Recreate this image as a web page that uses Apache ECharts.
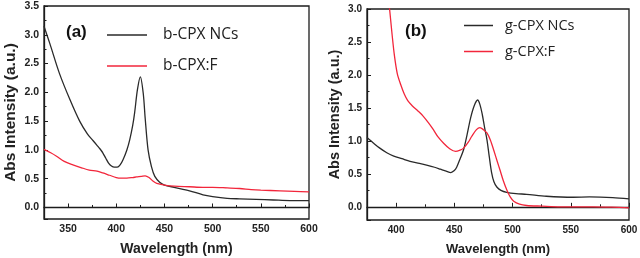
<!DOCTYPE html>
<html>
<head>
<meta charset="utf-8">
<script src="https://cdn.jsdelivr.net/npm/echarts@6/dist/echarts.min.js"></script>
<style>html,body{margin:0;padding:0;background:#fff}#c{width:640px;height:258px}</style>
</head>
<body>
<div id="c"></div>
<script>
// Panel (a)
const aNcX = [325,331,341,352,362,370,376,380,383,386,389,392,395,398,401,404,407,411,414,417,419,422,425,428,430,433,436.5,440,445,450,460,476,490,500,515,528,545,563,580,600];
const aNcY = [3.15,2.85,2.33,1.87,1.50,1.28,1.16,1.08,1.02,0.95,0.86,0.77,0.72,0.70,0.70,0.74,0.83,1.00,1.18,1.42,1.64,2.05,2.27,1.98,1.55,1.00,0.71,0.54,0.44,0.39,0.35,0.29,0.22,0.19,0.16,0.15,0.14,0.13,0.12,0.12];
const aFX = [325,332,338,346,355,364,372,380,386,393,400,405,411,417,421,426,430,434,438,442,450,460,476,490,500,515,528,540,550,570,585,600];
const aFY = [1.01,0.95,0.89,0.80,0.74,0.69,0.65,0.63,0.60,0.56,0.52,0.51,0.51,0.52,0.53,0.54,0.55,0.52,0.46,0.42,0.39,0.37,0.36,0.35,0.35,0.34,0.33,0.31,0.30,0.29,0.28,0.27];
// Panel (b)
const bNcX = [375,381,386,392,398,405,412,420,427,433,438,443,447,450,452,455,458,461,464,467,470,472,474,476,478,480,482,484,486.5,490,495,503,512,529,552,566,586,600];
const bNcY = [1.05,0.96,0.89,0.82,0.77,0.73,0.69,0.66,0.63,0.60,0.57,0.54,0.52,0.55,0.60,0.73,0.87,1.10,1.35,1.53,1.62,1.55,1.40,1.20,1.02,0.76,0.52,0.38,0.30,0.25,0.22,0.20,0.19,0.16,0.145,0.15,0.14,0.12];
const bFX = [392,394.4,396.5,398.5,401,404,407,410,414,419,423,428,432,436,441,446,451,455,458,462,465,469,472,475,478,481,484,487,489,492,495,498,501,506,512,525,541,569,585,600];
const bFY = [3.4,3.00,2.62,2.30,2.02,1.85,1.71,1.61,1.53,1.45,1.38,1.27,1.17,1.06,0.96,0.88,0.84,0.86,0.89,0.98,1.07,1.17,1.20,1.17,1.12,1.01,0.85,0.68,0.57,0.40,0.26,0.15,0.085,0.04,0.02,0.01,0.00,0.00,-0.005,-0.015];

const names = ['b-CPX NCs','b-CPX:F','g-CPX NCs','g-CPX:F'];
const panelLabels = ['(a)','(b)'];
const xName = 'Wavelength (nm)';
const yName = 'Abs Intensity (a.u.)';

const BLACK = '#2a2a2a', RED = '#f2263b', AX = '#1c1c1c';
const zip = (xs, ys) => xs.map((x, i) => [x, ys[i]]);

function xAxis(idx, min, fs, nfs) {
  return {
    type: 'value', gridIndex: idx, min: min, max: 600, splitNumber: 5,
    name: xName, nameLocation: 'middle', nameGap: 23,
    nameTextStyle: {fontFamily: 'Liberation Sans', fontWeight: 'bold', fontSize: nfs, color: '#222'},
    axisLine: {show: true, lineStyle: {color: AX, width: 1.3}},
    axisTick: {show: true, inside: true, length: 4, lineStyle: {color: AX, width: 1}},
    minorTick: {show: true, splitNumber: 2, length: 2.5, lineStyle: {color: AX, width: 1}},
    splitLine: {show: false},
    axisLabel: {showMinLabel: false, margin: 5, fontFamily: 'Liberation Sans', fontWeight: 'bold', fontSize: fs, color: '#222',
      formatter: v => (v % 50 === 0 ? String(v) : '')}
  };
}
function yAxis(idx, max, split, fs, nfs) {
  return {
    type: 'value', gridIndex: idx, min: -0.2, max: max, splitNumber: split,
    name: yName, nameLocation: 'middle', nameGap: 25,
    nameTextStyle: {fontFamily: 'Liberation Sans', fontWeight: 'bold', fontSize: nfs, color: '#222'},
    axisLine: {show: true, lineStyle: {color: AX, width: 1.3}},
    axisTick: {show: true, inside: true, length: 4, lineStyle: {color: AX, width: 1}},
    minorTick: {show: true, splitNumber: 2, length: 2.5, lineStyle: {color: AX, width: 1}},
    splitLine: {show: false},
    axisLabel: {showMinLabel: false, margin: 5, fontFamily: 'Liberation Sans', fontWeight: 'bold', fontSize: fs, color: '#222',
      formatter: v => (Math.abs(v * 2 - Math.round(v * 2)) < 1e-6 ? v.toFixed(1) : '')}
  };
}
function line(name, data, xi, color) {
  return {type: 'line', name: name, xAxisIndex: xi, yAxisIndex: xi, data: data, smooth: 0.3,
    symbol: 'none', clip: true, lineStyle: {color: color, width: 1.3}, itemStyle: {color: color}};
}

const chart = echarts.init(document.getElementById('c'), null, {renderer: 'canvas'});
chart.setOption({
  backgroundColor: '#fff',
  animation: false,
  title: [
    {text: panelLabels[0], left: 66, top: 24, padding: 0, textStyle: {fontFamily: 'Liberation Sans', fontWeight: 'bold', fontSize: 17, color: '#111'}},
    {text: panelLabels[1], left: 405, top: 23, padding: 0, textStyle: {fontFamily: 'Liberation Sans', fontWeight: 'bold', fontSize: 17, color: '#111'}}
  ],
  grid: [
    {left: 44, top: 6, width: 265, height: 213, show: true, borderColor: AX, borderWidth: 1.3, backgroundColor: 'transparent', containLabel: false, outerBoundsMode: 'none'},
    {left: 367, top: 9, width: 262, height: 211, show: true, borderColor: AX, borderWidth: 1.3, backgroundColor: 'transparent', containLabel: false, outerBoundsMode: 'none'}
  ],
  xAxis: [xAxis(0, 325, 10.5, 14), xAxis(1, 375, 10, 13)],
  yAxis: [yAxis(0, 3.5, 8, 10.5, 15.5), yAxis(1, 3.0, 7, 10, 14.5)],
  legend: [
    {data: [names[0], names[1]], orient: 'vertical', left: 107, top: 23, padding: 0, itemGap: 7,
      itemWidth: 40, itemHeight: 1.5, icon: 'rect', selectedMode: false,
      textStyle: {fontFamily: 'Open Sans', fontSize: 15.5, color: '#222', lineHeight: 20, padding: [4, 0, 0, 11]}},
    {data: [names[2], names[3]], orient: 'vertical', left: 464, top: 15, padding: 0, itemGap: 5,
      itemWidth: 29, itemHeight: 1.5, icon: 'rect', selectedMode: false,
      textStyle: {fontFamily: 'Open Sans', fontSize: 14.5, color: '#222', lineHeight: 18, padding: [3, 0, 0, 7]}}
  ],
  series: [
    line(names[0], zip(aNcX, aNcY), 0, BLACK),
    line(names[1], zip(aFX, aFY), 0, RED),
    line(names[2], zip(bNcX, bNcY), 1, BLACK),
    line(names[3], zip(bFX, bFY), 1, RED)
  ]
});
</script>
</body>
</html>
